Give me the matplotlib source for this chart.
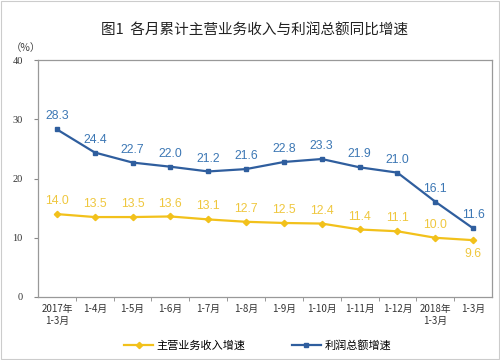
import matplotlib.pyplot as plt
from matplotlib.lines import Line2D

plt.rcParams['font.family'] = ['Noto Sans CJK SC', 'DejaVu Sans']

months = ["2017年\n1-3月", "1-4月", "1-5月", "1-6月", "1-7月", "1-8月",
          "1-9月", "1-10月", "1-11月", "1-12月", "2018年\n1-3月", "1-3月"]
revenue = [14.0, 13.5, 13.5, 13.6, 13.1, 12.7, 12.5, 12.4, 11.4, 11.1, 10.0, 9.6]
profit = [28.3, 24.4, 22.7, 22.0, 21.2, 21.6, 22.8, 23.3, 21.9, 21.0, 16.1, 11.6]

blue = "#2F5E9E"
blue_txt = "#3C77B4"
yellow = "#F2C11B"
yellow_txt = "#EFC73E"

fig = plt.figure(figsize=(5, 3.6), dpi=100)
ax = fig.add_axes([0.076, 0.175, 0.908, 0.658])

x = list(range(len(months)))
ax.plot(x, profit, color=blue, lw=1.6, marker="s", ms=3.2)
ax.plot(x, revenue, color=yellow, lw=1.6, marker="D", ms=3.2)

# value labels; the last revenue label sits under its point
for i, v in enumerate(profit):
    ax.annotate(f"{v:.1f}", (i, v), xytext=(0, 5), textcoords="offset points",
                ha="center", va="bottom", fontsize=8.8, color=blue_txt,
                family="Liberation Sans")
for i, v in enumerate(revenue):
    off, va = (5, "bottom") if i < len(revenue) - 1 else (-6, "top")
    ax.annotate(f"{v:.1f}", (i, v), xytext=(0, off), textcoords="offset points",
                ha="center", va=va, fontsize=8.8, color=yellow_txt,
                family="Liberation Sans")

ax.set_xlim(-0.5, len(months) - 0.5)
ax.set_ylim(0, 40)
ax.set_yticks([0, 10, 20, 30, 40])
ax.set_xticks(x)
ax.set_xticklabels(months, fontsize=7, color="#333333")
ax.set_xticks([i + 0.5 for i in x[:-1]], minor=True)
ax.tick_params(axis="x", which="major", length=0, pad=5)
ax.tick_params(axis="x", which="minor", length=3, color="#888888")
ax.tick_params(axis="y", length=3, color="#888888", labelsize=7.5,
               labelcolor="#333333", pad=8)
for lab in ax.get_yticklabels():
    lab.set_family("Liberation Serif")
for s in ax.spines.values():
    s.set_color("#999999")
    s.set_linewidth(0.9)

fig.text(0.51, 0.915, "图1  各月累计主营业务收入与利润总额同比增速",
         ha="center", va="center", fontsize=10.5, color="#222222")
fig.text(0.022, 0.868, "（%）", ha="left", va="center", fontsize=7.5,
         color="#444444")

handles = [Line2D([], [], color=yellow, lw=1.6, marker="D", ms=3.2),
           Line2D([], [], color=blue, lw=1.6, marker="s", ms=3.2)]
fig.legend(handles, ["主营业务收入增速", "利润总额增速"], loc="center",
           bbox_to_anchor=(0.515, 0.04), ncol=2, frameon=False, fontsize=8,
           handlelength=2.6, handletextpad=0.3, columnspacing=4.2)

fig.patches.append(plt.Rectangle((0.002, 0.003), 0.996, 0.994,
                                 transform=fig.transFigure, fill=False,
                                 edgecolor="#cccccc", lw=0.8))

fig.savefig("out.png", dpi=100)
